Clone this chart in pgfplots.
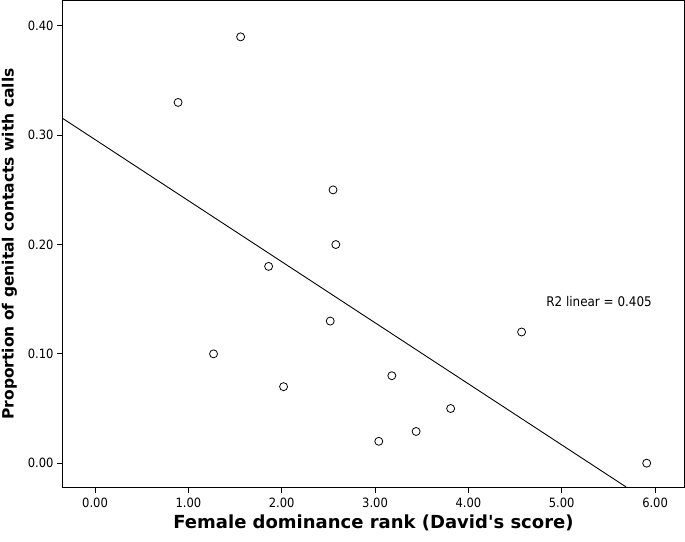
\documentclass[border=0pt]{standalone}
\usepackage{pgfplots}
\pgfplotsset{compat=1.18}
\usepackage{fontspec}
\setmainfont{DejaVu Sans}[Ligatures=TeXOff]
\newfontfamily\tickfont{DejaVu Sans Condensed}
\begin{document}
\begin{tikzpicture}
\begin{axis}[
  scale only axis,
  width=621pt, height=486pt,
  xmin=-0.343, xmax=6.31,
  ymin=-0.0218, ymax=0.4228,
  xtick={0,1,2,3,4,5,6},
  ytick={0,0.1,0.2,0.3,0.4},
  xticklabels={0.00,1.00,2.00,3.00,4.00,5.00,6.00},
  yticklabels={0.00,0.10,0.20,0.30,0.40},
  tick align=outside,
  tick pos=left,
  major tick length=6pt,
  tick style={black, line width=0.9pt},
  axis line style={line width=1pt},
  ticklabel style={font=\tickfont\fontsize{12.8}{15}\selectfont},
  xticklabel style={yshift=-1pt},
  xlabel={\bfseries Female dominance rank (David's score)},
  ylabel={\bfseries Proportion of genital contacts with calls},
  xlabel style={font=\fontsize{18}{21}\selectfont, yshift=-1pt},
  ylabel style={font=\fontsize{15.5}{18}\selectfont, yshift=4pt},
  clip=true,
]
\addplot[only marks, mark=o, mark size=4pt, mark options={line width=0.8pt}, black] coordinates {
  (1.56,0.390) (0.89,0.330) (2.55,0.250) (2.58,0.200) (1.86,0.180)
  (2.52,0.130) (1.27,0.100) (2.02,0.070) (3.18,0.080) (3.81,0.050)
  (3.44,0.029) (3.04,0.020) (4.57,0.120) (5.91,0.000)
};
\addplot[black, line width=0.9pt] coordinates {(-0.343,0.3152) (5.69,-0.0218)};
\node[font=\tickfont\fontsize{13.3}{15}\selectfont, anchor=center] at (axis cs:5.40,0.148) {R2 linear = 0.405};
\end{axis}
\pgfresetboundingbox
\path[use as bounding box] ([xshift=-63pt,yshift=-54pt]current axis.south west) rectangle ([xshift=1pt,yshift=1pt]current axis.north east);
\end{tikzpicture}
\end{document}
